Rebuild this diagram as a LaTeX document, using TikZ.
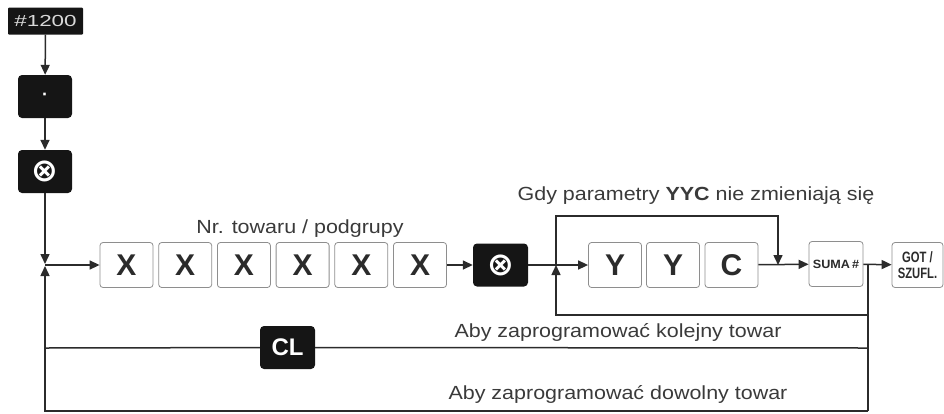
\documentclass[tikz,border=0pt]{standalone}
\usepackage{fontspec}
\setmainfont{Liberation Sans}
\newfontfamily\symb{DejaVu Sans}
\usetikzlibrary{arrows.meta}
\definecolor{ciemny}{HTML}{2B2B2B}
\definecolor{szary}{HTML}{8E8E8E}
\definecolor{czarny}{HTML}{151515}
\definecolor{opisk}{HTML}{3A3A3A}
\newcommand{\razyznak}{{\symb\bfseries\fontsize{32}{32}\selectfont ⊗}}
\newcommand{\szer}[1]{\scalebox{1.13}[1]{#1}}
\tikzset{
  strz/.style={-{Triangle[length=10pt,width=9pt]},ciemny,line width=1.5pt},
  linia/.style={ciemny,line width=1.5pt},
  klaw/.style={draw=szary,fill=white,rounded corners=3pt,line width=0.8pt,minimum width=53pt,minimum height=45pt,inner sep=0pt,text=ciemny,font=\fontsize{30}{30}\selectfont\bfseries},
  cklaw/.style={fill=czarny,rounded corners=4pt,minimum width=54pt,minimum height=43pt,inner sep=0pt,text=white},
  opis/.style={text=opisk,font=\fontsize{19}{21}\selectfont},
}

\begin{document}
\begin{tikzpicture}[x=1pt,y=-1pt]
  \useasboundingbox (0,0) rectangle (944,413);
  % lewa kolumna
  \node[cklaw,rounded corners=1pt,minimum width=75pt,minimum height=27pt,text=white!85!black,font=\fontsize{16}{16}\selectfont] (kod) at (45.5,21) {\scalebox{1.4}[1]{\#1200}};
  \node[cklaw,font=\fontsize{18}{18}\selectfont\bfseries] (kropka) at (45,96.5) {·};
  \node[cklaw] (razy) at (45,171.5) {\razyznak};
  \draw[strz] (kod) -- (kropka);
  \draw[strz] (kropka) -- (razy);
  % glowny wiersz
  \coordinate (wl) at (45,265);
  \coordinate (wlg) at (45,264);
  \coordinate (wld) at (45,266);
  \foreach \i in {1,...,6}
    \node[klaw] (x\i) at ({126.5+(\i-1)*58.7},265) {X};
  \node[opis] (nrtow) at (300,229) {\szer{Nr. towaru / podgrupy}};
  \node[cklaw,minimum width=55pt] (razyb) at (500.5,265) {\razyznak};
  \node[klaw] (y1) at (615,265) {Y};
  \node[klaw] (y2) at (673,265) {Y};
  \node[klaw] (c) at (731.5,265) {C};
  \node[klaw,minimum width=54pt,font=\fontsize{12}{12}\selectfont\bfseries] (suma) at (836,264) {\scalebox{1.05}[1]{SUMA\,\#}};
  \node[klaw,minimum width=51pt,align=center,font=\fontsize{15}{15}\selectfont\bfseries] (got) at (917.5,265) {\scalebox{0.75}[1]{GOT /}\\[1pt]\scalebox{0.75}[1]{SZUFL.}};
  \draw[strz] (razy) -- (wlg);
  \draw[strz] (wl) -- (x1);
  \draw[strz] (x6) -- (razyb);
  \draw[strz] (razyb) -- (y1);
  \draw[strz] (c) -- (suma);
  \draw[strz] (suma) -- (got);
  % petla YYC
  \coordinate (ws) at (556,265);
  \coordinate (wc) at (778,265);
  \coordinate (g1) at (556,216);
  \coordinate (g2) at (778,216);
  \node[opis] (gdy) at (696,196) {\szer{Gdy parametry \textbf{YYC} nie zmieniają się}};
  \draw[strz] (ws) -- (g1) -- (g2) -- (wc);
  % powroty
  \coordinate (wr) at (868,265);
  \coordinate (d1) at (868,315);
  \coordinate (d2) at (556,315);
  \coordinate (k1) at (868,348);
  \coordinate (k2) at (45,348);
  \coordinate (rd) at (868,411);
  \coordinate (ld) at (45,411);
  \draw[strz] (d1) -- (d2) -- (ws);
  \draw[linia] (wr) -- (rd);
  \draw[strz] (rd) -- (ld) -- (wld);
  \node[cklaw,minimum width=55pt,font=\fontsize{24}{24}\selectfont\bfseries] (cl) at (287.5,347.5) {CL};
  \draw[linia] (k1) -- (cl) -- (k2);
  \node[opis] (kolejny) at (618,332) {\szer{Aby zaprogramować kolejny towar}};
  \node[opis] (dowolny) at (618,394) {\szer{Aby zaprogramować dowolny towar}};
\end{tikzpicture}
\end{document}
